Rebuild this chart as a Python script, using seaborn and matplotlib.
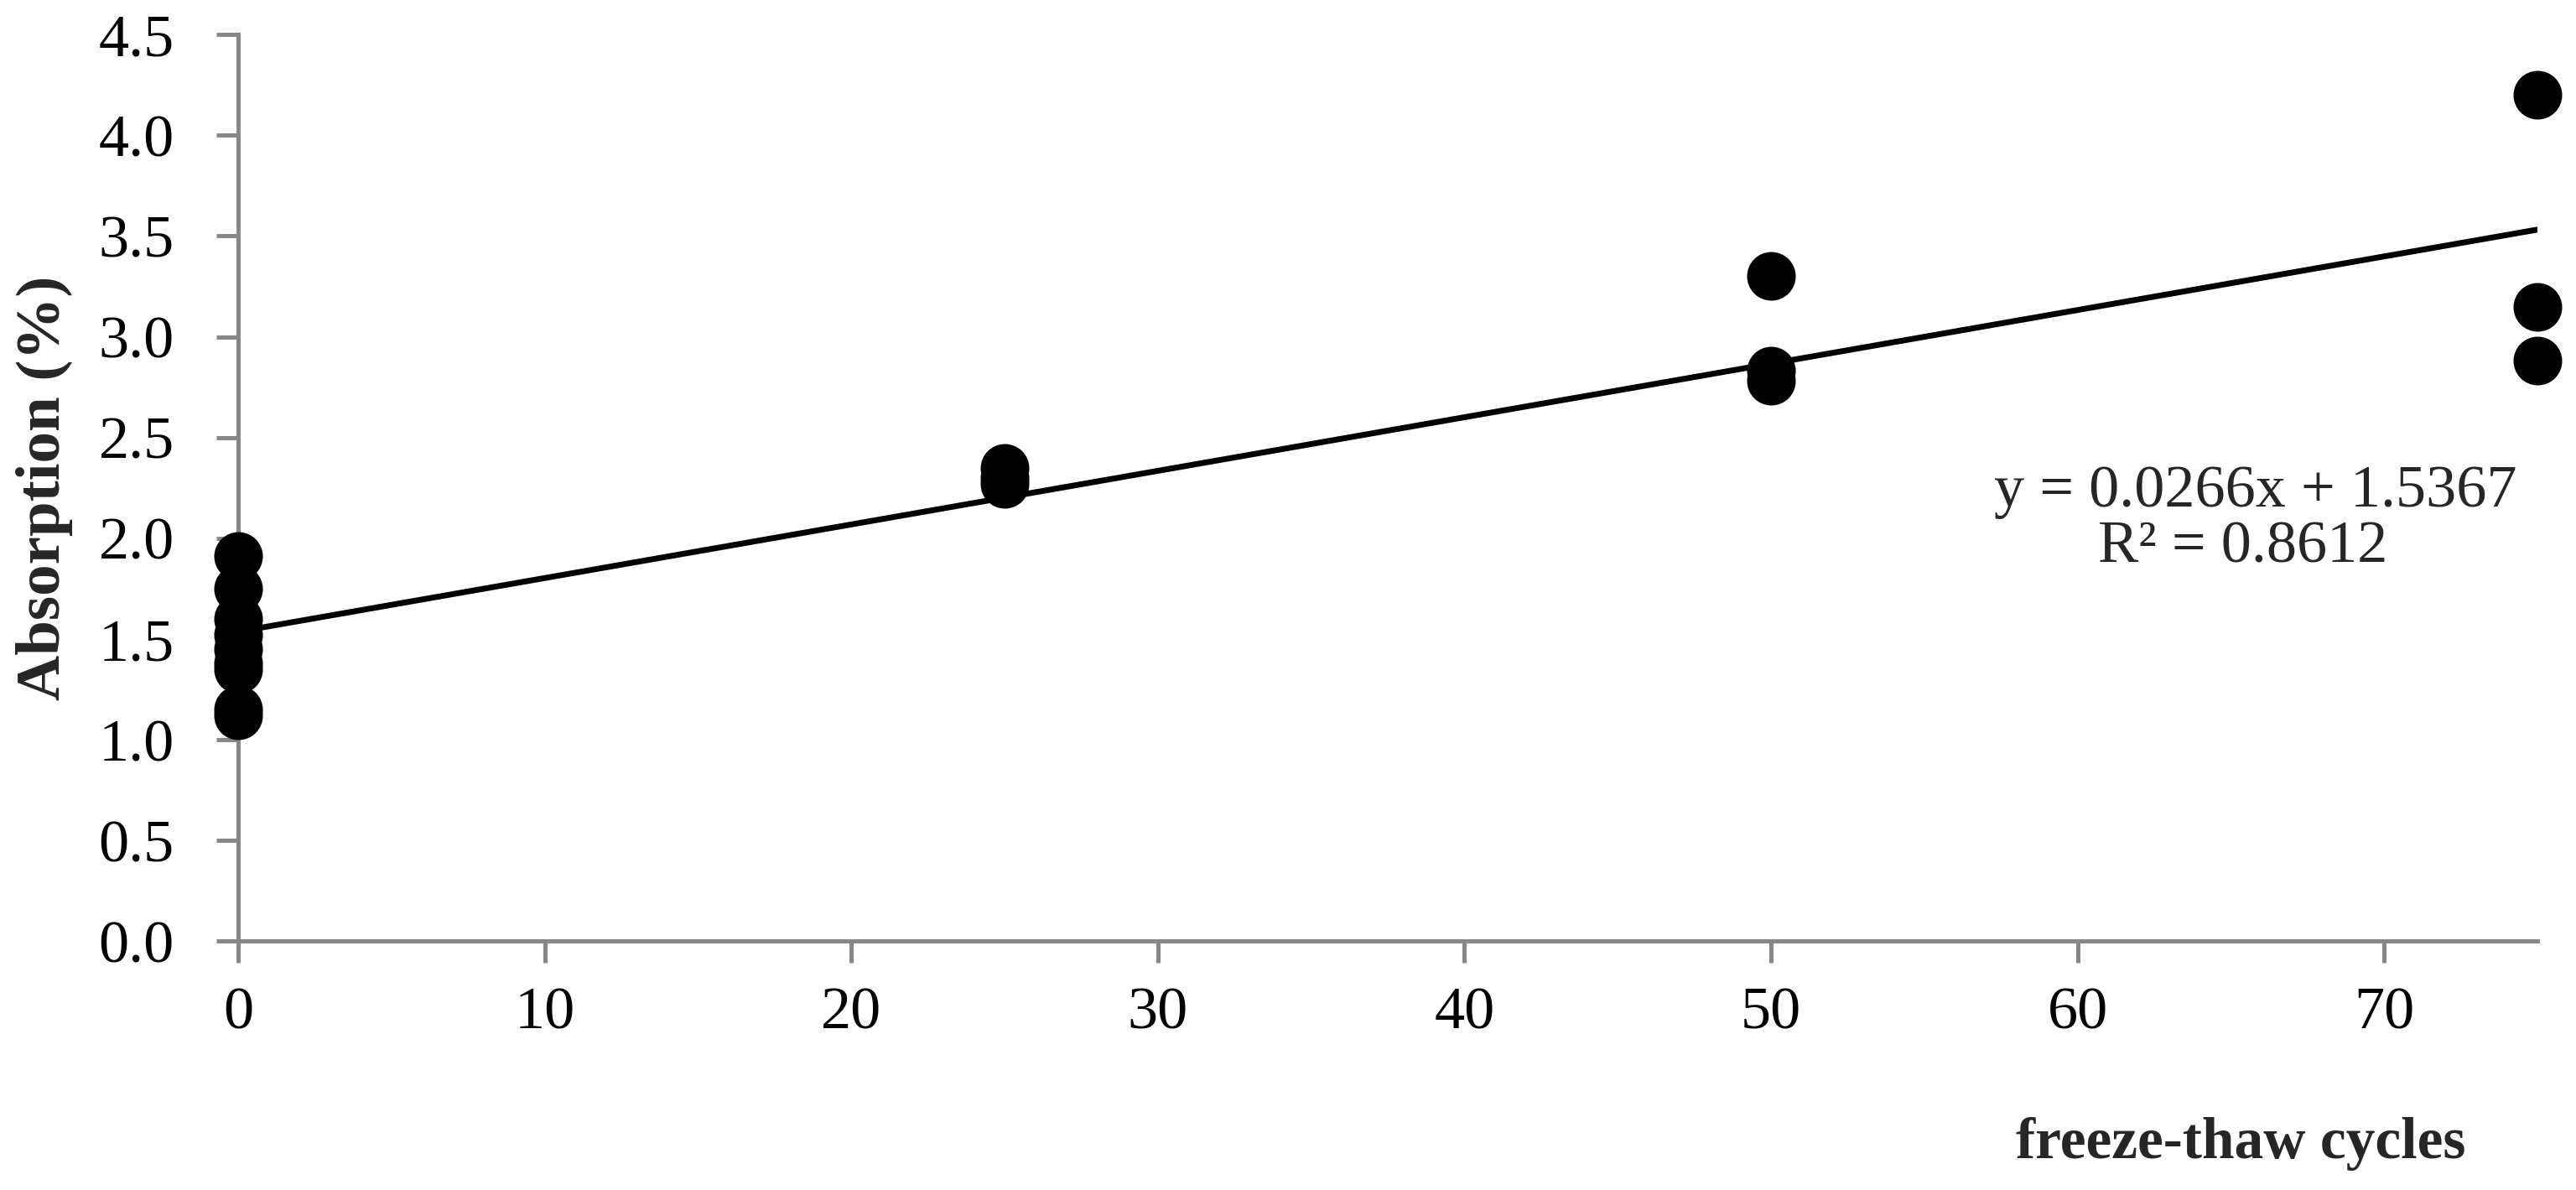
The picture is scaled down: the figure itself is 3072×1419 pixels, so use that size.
import matplotlib
matplotlib.use('Agg')
import matplotlib.pyplot as plt
import numpy as np
import pandas as pd
import seaborn as sns

# freeze-thaw cycles and measured absorption (%)
cycles = [0, 0, 0, 0, 0, 0, 0, 0, 0,
          25, 25, 25,
          50, 50, 50,
          75, 75, 75]
absorption = [1.91, 1.75, 1.60, 1.52, 1.45, 1.38, 1.35, 1.15, 1.12,
              2.35, 2.30, 2.27,
              3.30, 2.83, 2.78,
              4.20, 3.15, 2.88]

# linear trendline as reported on the chart
trend_slope = 0.0266
trend_intercept = 1.5367
trend_r2 = 0.8612
trend_range = [0, 75]

x_ticks = [0, 10, 20, 30, 40, 50, 60, 70]
y_ticks = [0.0, 0.5, 1.0, 1.5, 2.0, 2.5, 3.0, 3.5, 4.0, 4.5]

sns.set_style('ticks')
plt.rcParams['font.family'] = ['Liberation Serif', 'DejaVu Serif']

df = pd.DataFrame({'cycles': cycles, 'absorption': absorption})
trend_x = np.array(trend_range, dtype=float)
df_trend = pd.DataFrame({'x': trend_x, 'y': trend_slope * trend_x + trend_intercept})

fig = plt.figure(figsize=(30.72, 14.19), dpi=100)
ax = fig.add_axes([0.0925, 0.209, 0.8925, 0.762])

sns.lineplot(data=df_trend, x='x', y='y', ax=ax, color='black', linewidth=5, zorder=2)
sns.scatterplot(data=df, x='cycles', y='absorption', ax=ax, color='black',
                s=1745, linewidth=0, zorder=3, clip_on=False)

ax.set_xlim(0, 75)
ax.set_ylim(0, 4.5)
ax.set_xticks(x_ticks)
ax.set_yticks(y_ticks)
ax.set_yticklabels(['{:.1f}'.format(v) for v in y_ticks])

spine_color = '#878787'
sns.despine(ax=ax)
for side in ['left', 'bottom']:
    ax.spines[side].set_color(spine_color)
    ax.spines[side].set_linewidth(3.6)
ax.tick_params(axis='both', colors=spine_color, width=3.6, length=19,
               labelcolor='black', labelsize=52)
ax.tick_params(axis='y', pad=36)
ax.tick_params(axis='x', pad=20)

ax.set_xlabel('freeze-thaw cycles', fontsize=50, fontweight='bold')
ax.set_ylabel('Absorption (%)', fontsize=54, fontweight='bold')
ax.xaxis.set_label_coords(0.871, -0.223)
ax.xaxis.label.set_verticalalignment('center')
ax.yaxis.set_label_coords(-0.0842, 0.5)
ax.yaxis.label.set_verticalalignment('center')

ax.text(65.8, 2.23, 'y = {:.4f}x + {:.4f}'.format(trend_slope, trend_intercept),
        fontsize=52, ha='center', va='center')
ax.text(65.4, 1.955, 'R² = {:.4f}'.format(trend_r2),
        fontsize=52, ha='center', va='center')

plt.savefig('out.png', dpi=100)
plt.close()
